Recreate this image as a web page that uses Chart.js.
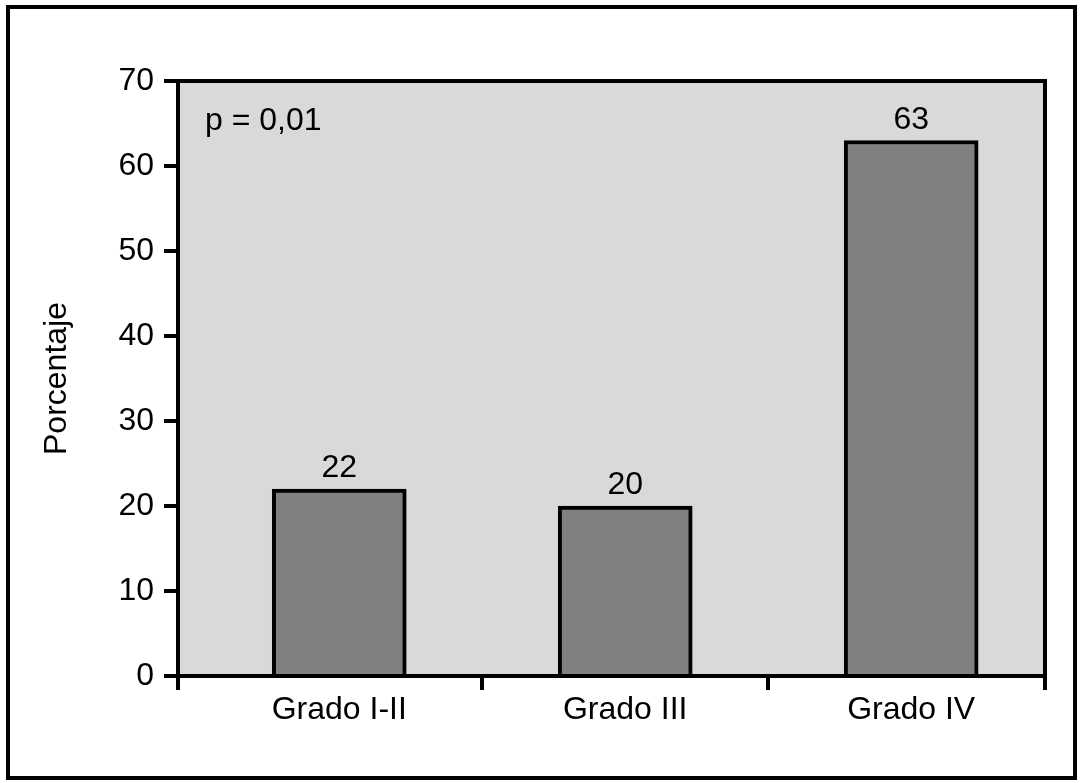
<!DOCTYPE html>
<html>
<head>
<meta charset="utf-8">
<script src="https://cdn.jsdelivr.net/npm/chart.js@4/dist/chart.umd.min.js"></script>
<style>
  html, body { margin: 0; padding: 0; background: #ffffff; }
  canvas { display: block; }
</style>
</head>
<body>
<canvas id="c" width="1084" height="783"></canvas>
<script>
const categories = ["Grado I-II", "Grado III", "Grado IV"];
const porcentajes = [22, 20, 63];
const yTicks = [0, 10, 20, 30, 40, 50, 60, 70];
const yTitle = "Porcentaje";
const annotationText = "p = 0,01";

const FONT = '"Liberation Sans", Arial, Helvetica, sans-serif';
const FS = 32;
const LW = 4;

const points = porcentajes.map((v, i) => ({ x: i, y: v }));

const framePlugin = {
  id: 'frame',
  beforeDraw(chart) {
    const ctx = chart.ctx;
    const a = chart.chartArea;
    ctx.save();
    ctx.fillStyle = '#ffffff';
    ctx.fillRect(0, 0, chart.width, chart.height);
    ctx.strokeStyle = '#000';
    ctx.lineWidth = LW;
    ctx.strokeRect(8, 7, chart.width - 17, chart.height - 12);
    ctx.fillStyle = '#d9d9d9';
    ctx.fillRect(a.left, a.top, a.right - a.left, a.bottom - a.top);
    ctx.restore();
  },
  afterDatasetsDraw(chart) {
    const ctx = chart.ctx;
    const a = chart.chartArea;
    ctx.save();
    ctx.strokeStyle = '#000';
    ctx.lineWidth = LW;
    ctx.lineCap = 'square';
    ctx.beginPath();
    ctx.moveTo(a.left, a.top);
    ctx.lineTo(a.right, a.top);
    ctx.lineTo(a.right, a.bottom);
    ctx.stroke();
    ctx.fillStyle = '#000';
    ctx.font = FS + 'px ' + FONT;
    ctx.textAlign = 'center';
    ctx.textBaseline = 'alphabetic';
    const meta = chart.getDatasetMeta(0);
    meta.data.forEach((bar, i) => {
      ctx.fillText(String(porcentajes[i]), bar.x, bar.y - 12);
    });
    ctx.textAlign = 'left';
    ctx.fillText(annotationText, a.left + 27, a.top + 49);
    ctx.restore();
  }
};

new Chart(document.getElementById('c'), {
  type: 'bar',
  data: {
    datasets: [{
      data: points,
      backgroundColor: '#808080',
      borderColor: '#000000',
      borderWidth: LW,
      barThickness: 134
    }]
  },
  options: {
    responsive: false,
    animation: false,
    events: [],
    layout: { padding: { left: 0, top: 81, right: 39, bottom: 0 } },
    plugins: {
      legend: { display: false },
      tooltip: { enabled: false },
      title: { display: false }
    },
    scales: {
      x: {
        type: 'linear',
        offset: false,
        min: -0.564,
        max: 2.468,
        afterBuildTicks(scale) {
          scale.ticks = [scale.min, 0, 0.5, 1, 1.5, 2, scale.max].map(v => ({ value: v }));
        },
        afterFit(scale) { scale.height = 107; },
        ticks: {
          autoSkip: false,
          maxRotation: 0,
          color: '#000',
          font: { family: FONT, size: FS },
          padding: 1,
          callback(value) {
            return Number.isInteger(value) && categories[value] !== undefined ? categories[value] : '';
          }
        },
        grid: {
          offset: false,
          drawOnChartArea: false,
          drawTicks: true,
          tickLength: 14,
          lineWidth: LW,
          tickColor(ctx) {
            return ctx.tick && Number.isInteger(ctx.tick.value) ? 'rgba(0,0,0,0)' : '#000';
          },
          color: '#000'
        },
        border: { display: true, color: '#000', width: LW }
      },
      y: {
        min: 0,
        max: 70,
        afterBuildTicks(scale) {
          scale.ticks = yTicks.map(v => ({ value: v }));
        },
        afterFit(scale) { scale.width = 178; },
        ticks: {
          color: '#000',
          font: { family: FONT, size: FS },
          padding: 10
        },
        grid: {
          drawOnChartArea: false,
          tickLength: 14,
          lineWidth: LW,
          color: '#000',
          tickColor: '#000'
        },
        border: { display: true, color: '#000', width: LW },
        title: {
          display: true,
          text: yTitle,
          color: '#000',
          font: { family: FONT, size: FS },
          padding: { top: 38, bottom: 0 }
        }
      }
    }
  },
  plugins: [framePlugin]
});
</script>
</body>
</html>
